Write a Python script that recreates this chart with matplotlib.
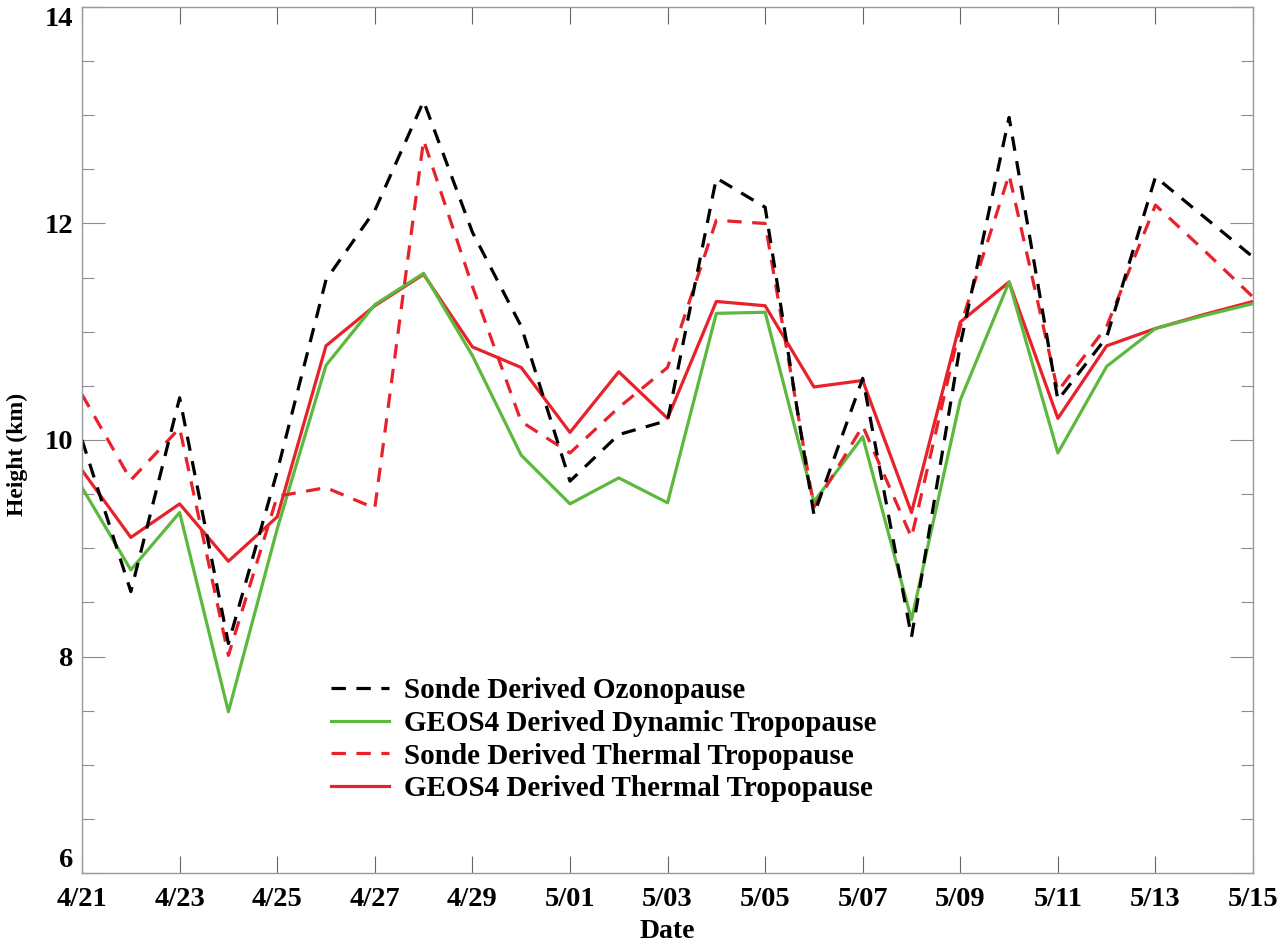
import numpy as np
import matplotlib
matplotlib.use('Agg')
import matplotlib.pyplot as plt
from matplotlib.ticker import MultipleLocator

# Дані
dates = ['4/21', '4/22', '4/23', '4/24', '4/25', '4/26', '4/27', '4/28', '4/29', '4/30',
         '5/01', '5/02', '5/03', '5/04', '5/05', '5/06', '5/07', '5/08', '5/09', '5/10',
         '5/11', '5/12', '5/13', '5/14', '5/15']
ozonopause = [10.00, 8.60, 10.39, 8.12, 9.71, 11.48, 12.12, 13.13, 11.92, 11.05,
              9.62, 10.05, 10.18, 12.42, 12.15, 9.31, 10.57, 8.18, 10.88, 12.98,
              10.37, 10.95, 12.43, 12.06, 11.69]
dyn_trop = [9.56, 8.80, 9.33, 7.49, 9.18, 10.69, 11.25, 11.54, 10.78, 9.86,
            9.41, 9.65, 9.42, 11.17, 11.18, 9.43, 10.03, 8.34, 10.37, 11.46,
            9.88, 10.68, 11.03, 11.15, 11.26]
sonde_thermal = [10.42, 9.63, 10.11, 8.01, 9.48, 9.56, 9.37, 12.77, 11.42, 10.17,
                 9.88, 10.30, 10.67, 12.03, 12.00, 9.38, 10.13, 9.10, 11.05, 12.45,
                 10.45, 11.05, 12.17, 11.75, 11.32]
geos_thermal = [9.72, 9.10, 9.41, 8.88, 9.29, 10.87, 11.24, 11.53, 10.86, 10.67,
                10.07, 10.63, 10.20, 11.28, 11.24, 10.49, 10.55, 9.33, 11.09, 11.46,
                10.20, 10.87, 11.03, 11.16, 11.28]
height_ticks = [6, 8, 10, 12, 14]
labels = ['Sonde Derived Ozonopause', 'GEOS4 Derived Dynamic Tropopause',
          'Sonde Derived Thermal Tropopause', 'GEOS4 Derived Thermal Tropopause']

plt.rcParams['font.family'] = ['Liberation Serif', 'DejaVu Serif']
plt.rcParams['font.weight'] = 'bold'
plt.rcParams['axes.labelweight'] = 'bold'

x = np.arange(len(dates))

fig = plt.figure(figsize=(12.84, 9.44), dpi=100)
ax = fig.add_axes([0.0639, 0.0752, 0.912, 0.9174])

green = '#5db83e'
red = '#e8212b'
lw = 2.3
dash = (0, (4.5, 3.3))
h4, = ax.plot(x, geos_thermal, color=red, lw=lw)
h2, = ax.plot(x, dyn_trop, color=green, lw=lw)
h3, = ax.plot(x, sonde_thermal, color=red, lw=lw, ls=dash)
h1, = ax.plot(x, ozonopause, color='black', lw=lw, ls=dash)

ax.set_xlim(0, len(dates) - 1)
ax.set_ylim(6, 14)
ax.set_xticks(x[::2])
ax.set_xticklabels(dates[::2])
ax.set_yticks(height_ticks)
ax.set_yticklabels([str(v) for v in height_ticks])
ax.yaxis.set_minor_locator(MultipleLocator(0.5))

for s in ax.spines.values():
    s.set_color('#9a9a9a')
    s.set_linewidth(1.0)
ax.tick_params(axis='x', which='major', direction='in', length=12.5, width=0.8,
               color='#666666', top=True, labelsize=20.5, pad=10)
ax.tick_params(axis='y', which='major', direction='in', length=16.5, width=0.8,
               color='#8c8c8c', right=True, labelsize=20.5, pad=6)
ax.tick_params(axis='y', which='minor', direction='in', length=8.6, width=0.8,
               color='#8c8c8c', right=True)

# крайні підписи осі Y вирівняні всередину, як у оригіналі
ylabs = ax.get_yticklabels()
ylabs[0].set_va('bottom')
ylabs[-1].set_va('top')

ax.set_xlabel('Date', fontsize=20, labelpad=5)
ax.set_ylabel('Height (km)', fontsize=17)
ax.yaxis.set_label_coords(-0.046, 0.483)

ax.legend([h1, h2, h3, h4], labels, loc='upper left', bbox_to_anchor=(0.195, 0.25),
          frameon=False, fontsize=21, handlelength=2.0, handletextpad=0.5,
          labelspacing=0.2, borderpad=0.2)

fig.savefig('out.png', dpi=100)
